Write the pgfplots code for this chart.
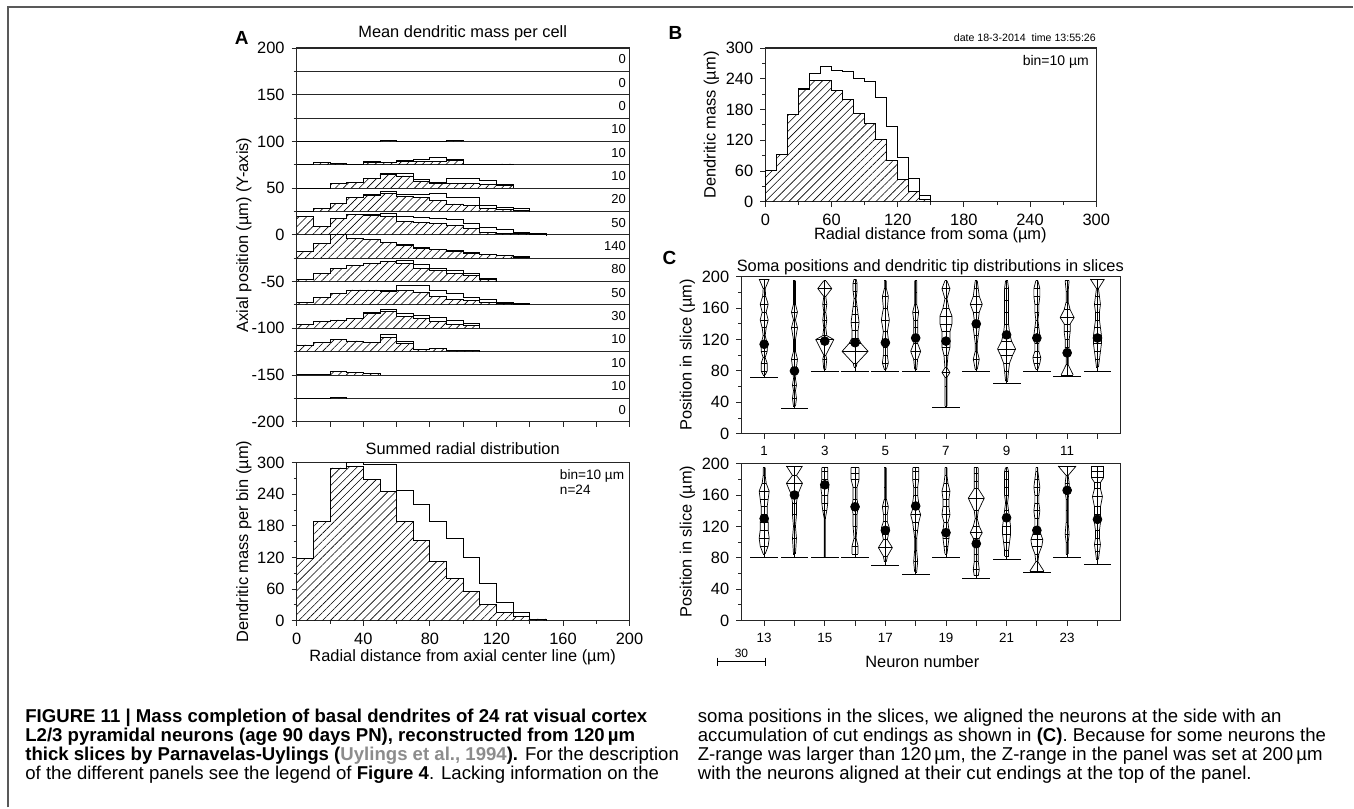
\documentclass[border=0pt]{standalone}
\usepackage{fontspec}
\setmainfont{Liberation Sans}
\usepackage{pgfplots}
\pgfplotsset{compat=1.18}
\usetikzlibrary{patterns.meta}

\pgfplotsset{
  panel/.style={
    scale only axis, anchor=south west, enlargelimits=false,
    axis line style={black!85, line width=0.55pt},
    tick align=outside, tick pos=left,
    major tick length=2.6pt, minor tick length=1.6pt,
    every tick/.style={black!85, line width=0.45pt},
    tick label style={font=\fontsize{8.2}{9}\selectfont},
    /pgf/number format/assume math mode=true,
  },
  open/.style={const plot, draw=black, line width=0.4pt},
  hatch/.style={const plot, draw=black, line width=0.4pt,
    pattern={Lines[angle=45,distance=2.8pt,line width=0.3pt]}},
  vio/.style={black, line width=0.35pt},
  bars/.style={draw=none, mark=none, error bars/.cd, x dir=both,
    error mark=none, error bar style={draw=black, solid, line width=0.35pt}},
}
\tikzset{
  lab/.style={font=\fontsize{8.2}{9}\selectfont, inner sep=0pt},
  rowlab/.style={font=\fontsize{6.5}{7}\selectfont, anchor=east, inner sep=0pt},
  captxt/.style={font=\fontsize{9.3}{11}\selectfont, anchor=base west, inner sep=0pt},
}

% one histogram row: #1 baseline, #2 rows "x open hatched"
\newcommand{\hrow}[2]{%
  \addplot[open] table[row sep=\\, x=x, y expr=\thisrow{o}+(#1)] {x o c\\ #2};
  \addplot[hatch] table[row sep=\\, x=x, y expr=\thisrow{c}+(#1)] {x o c\\ #2};
}
% one tip distribution: #1 neuron slot, #2 cut level, #3 top, #4 rows "y halfwidth(px)"
\newcommand{\violin}[4]{%
  \addplot[vio] table[row sep=\\, x expr=#1+\thisrow{w}/30.3, y=y] {y w\\ #4};
  \addplot[vio] table[row sep=\\, x expr=#1-\thisrow{w}/30.3, y=y] {y w\\ #4};
  \addplot[bars, x explicit]
    table[row sep=\\, x expr=#1, y=y, x error expr=\thisrow{w}/30.3] {y w\\ #4};
  \addplot[vio] table[row sep=\\] {x y\\ #1 #2\\ #1 #3\\};
}

\begin{document}
\begin{tikzpicture}[x=0.5pt,y=-0.5pt]
\path (0,0) rectangle (1354,808);
\draw[black!65, line width=1pt] (8,808) -- (8,7) -- (1354,7);

%% ---------------- A: mean mass per cell
\begin{axis}[panel, at={(148.5pt,-211pt)}, width=166.5pt, height=187pt,
  xmin=0, xmax=200, ymin=-200, ymax=200,
  xtick={0,20,...,200}, xticklabels={},
  ytick={-200,-150,...,200}, minor ytick={-175,-125,...,175},
  ymajorgrids, yminorgrids, grid style={black!85, line width=0.45pt}]
\hrow{100}{0 0 0\\ 50 1 1\\ 60 0 0\\ 90 1 1\\ 100 0 0\\}
\hrow{75}{0 0 0\\ 10 2.3 2.3\\ 20 1.3 1.3\\ 30 0 0\\ 40 3.4 2.5\\ 50 2.3 2.3\\ 60 4.5 3.5\\ 70 5.9 4\\ 80 8 4\\ 90 5.2 4.5\\ 100 0 0\\ 120 0.9 0.9\\ 130 0 0\\}
\hrow{50}{0 0 0\\ 20 5.3 5.3\\ 30 6 6\\ 40 10.6 10.6\\ 50 16 15\\ 60 15.3 13\\ 70 8.8 7\\ 80 6 5.5\\ 90 10 5\\ 100 10 5\\ 110 8 3.5\\ 120 3.5 2.5\\ 130 0 0\\}
\hrow{25}{0 0 0\\ 10 3.6 3.6\\ 20 8.2 8.2\\ 30 14.6 14.6\\ 40 18.6 17\\ 50 21.4 19\\ 60 17.9 16\\ 70 18.6 15\\ 80 18.9 11.8\\ 90 15.4 8\\ 100 15.4 6\\ 110 7 3.6\\ 120 4.3 2\\ 130 2.9 1\\ 140 0 0\\}
\hrow{0}{0 0 0\\ 0 19.6 19.6\\ 10 8.9 8.9\\ 20 17.9 17.9\\ 30 21.4 21.4\\ 40 22 20.4\\ 50 23.2 19.6\\ 60 19.6 14.3\\ 70 18.9 13.6\\ 80 17.9 12.5\\ 90 16 10\\ 100 12.5 6.4\\ 110 8.2 2.9\\ 120 5.4 1.8\\ 130 2.9 1\\ 140 1 0.3\\ 150 0 0\\}
\hrow{-25}{0 0 0\\ 0 7.1 7.1\\ 10 16 16\\ 20 25 25\\ 30 21.4 21.4\\ 40 19.6 19.6\\ 50 16.8 16.8\\ 60 14.3 13.2\\ 70 11.8 10.7\\ 80 9.6 8.9\\ 90 7.9 7.1\\ 100 6.1 5.4\\ 110 4.3 3.6\\ 120 2.9 2.5\\ 130 1.4 1\\ 140 0 0\\}
\hrow{-50}{0 0 0\\ 0 1.8 1.8\\ 10 8.9 8.9\\ 20 13.6 13.6\\ 30 16.8 16.8\\ 40 19.6 19.6\\ 50 22 21.4\\ 60 22.5 18.9\\ 70 17.9 14.3\\ 80 14.3 11.8\\ 90 11.4 8.9\\ 100 8.9 6.4\\ 110 2.9 1.8\\ 120 0 0\\}
\hrow{-75}{0 0 0\\ 0 2.5 2.5\\ 10 8.2 8.2\\ 20 12.5 12.5\\ 30 16 16\\ 40 16 16\\ 50 16 14.3\\ 60 20.7 15.4\\ 70 20.7 13.2\\ 80 16 8.9\\ 90 12.5 6\\ 100 8.2 4.3\\ 110 5.4 2.9\\ 120 2.9 1.8\\ 130 1.2 0.7\\ 140 0 0\\}
\hrow{-100}{0 0 0\\ 0 3.6 3.6\\ 10 7.1 7.1\\ 20 8.9 8.9\\ 30 10.7 10.7\\ 40 16.8 16\\ 50 20.4 17.9\\ 60 15.4 12.5\\ 70 14.3 10.7\\ 80 11.8 7.1\\ 90 7.9 4.3\\ 100 5.4 2.9\\ 110 0 0\\}
\hrow{-125}{0 0 0\\ 0 7.1 7.1\\ 10 10 10\\ 20 13.2 13.2\\ 30 11.4 11.4\\ 40 9.6 9.6\\ 50 17.9 15.5\\ 60 10.7 8.9\\ 70 2.5 2.5\\ 80 3.6 3\\ 90 1.8 1.5\\ 100 1.1 1\\ 110 0 0\\}
\hrow{-150}{0 0 0\\ 0 0.7 0.7\\ 10 0.7 0.7\\ 20 3.6 3.6\\ 30 2.9 2.9\\ 40 2.1 2.1\\ 50 0 0\\}
\hrow{-175}{0 0 0\\ 20 0.7 0.7\\ 30 0 0\\}
\node[rowlab] at (axis cs:198,188) {0};
\node[rowlab] at (axis cs:198,163) {0};
\node[rowlab] at (axis cs:198,138) {0};
\node[rowlab] at (axis cs:198,113) {10};
\node[rowlab] at (axis cs:198,88) {10};
\node[rowlab] at (axis cs:198,63) {10};
\node[rowlab] at (axis cs:198,38) {20};
\node[rowlab] at (axis cs:198,13) {50};
\node[rowlab] at (axis cs:198,-12) {140};
\node[rowlab] at (axis cs:198,-37) {80};
\node[rowlab] at (axis cs:198,-62) {50};
\node[rowlab] at (axis cs:198,-87) {30};
\node[rowlab] at (axis cs:198,-112) {10};
\node[rowlab] at (axis cs:198,-137) {10};
\node[rowlab] at (axis cs:198,-162) {10};
\node[rowlab] at (axis cs:198,-187) {0};
\end{axis}

%% ---------------- A: summed radial distribution
\begin{axis}[panel, at={(148.5pt,-310.5pt)}, width=166.5pt, height=79pt,
  xmin=0, xmax=200, ymin=0, ymax=300,
  xtick={0,40,...,200}, minor x tick num=1,
  ytick={0,60,...,300}, minor y tick num=1]
\hrow{0}{0 0 0\\ 0 118 118\\ 10 188 188\\ 20 290 290\\ 30 300 292\\ 40 297 268\\ 50 297 245\\ 60 248 188\\ 70 220 152\\ 80 188 112\\ 90 157 80\\ 100 120 55\\ 110 70 30\\ 120 35 15\\ 130 15 8\\ 140 3 3\\ 150 0 0\\}
\end{axis}

%% ---------------- B
\begin{axis}[panel, at={(383pt,-101pt)}, width=165.5pt, height=77pt,
  xmin=0, xmax=300, ymin=0, ymax=300,
  xtick={0,60,...,300}, minor x tick num=1,
  ytick={0,60,...,300}, minor y tick num=1]
\hrow{0}{0 0 0\\ 0 62 62\\ 10 93 93\\ 20 171 171\\ 30 222 220\\ 40 251 236\\ 50 265 236\\ 60 257 217\\ 70 254 199\\ 80 240 173\\ 90 234 152\\ 100 204 122\\ 110 148 81\\ 120 87 43\\ 130 45 20\\ 140 12 5\\ 150 0 0\\}
\end{axis}

%% ---------------- C, neurons 1-12
\begin{axis}[panel, at={(371pt,-217pt)}, width=189.5pt, height=78.5pt,
  xmin=0.25, xmax=12.75, ymin=0, ymax=200,
  xtick={1,...,12}, xticklabels={1,,3,,5,,7,,9,,11,},
  x tick label style={font=\fontsize{6.7}{7}\selectfont},
  ytick={0,40,...,200}, minor y tick num=1]
\violin{1}{72}{197}{75 1\\ 80 3\\ 90 3\\ 97 1\\ 105 3\\ 115 3\\ 125 1\\ 135 2\\ 145 4\\ 155 2\\ 165 4\\ 175 1.5\\ 185 1\\ 197 5\\}
\violin{2}{32}{195}{35 1\\ 45 2\\ 55 1\\ 62 2\\ 70 1\\ 85 2\\ 95 3\\ 105 1\\ 120 1\\ 135 3\\ 145 1\\ 155 3\\ 165 1\\ 180 1\\ 195 1\\}
\violin{3}{80}{195}{82 1\\ 95 2\\ 100 1\\ 120 9\\ 125 2\\ 135 1\\ 145 2\\ 155 1\\ 165 2\\ 175 1\\ 185 7\\ 195 1\\}
\violin{4}{80}{197}{85 1\\ 90 2\\ 105 13\\ 115 6\\ 122 3\\ 132 3\\ 142 4\\ 152 3\\ 162 2\\ 172 1\\ 182 2\\ 192 2\\ 197 1\\}
\violin{5}{79}{195}{82 1\\ 90 3\\ 100 2\\ 110 2\\ 120 3\\ 130 2\\ 145 4\\ 160 2\\ 175 3\\ 185 1\\ 195 1\\}
\violin{6}{80}{195}{82 1\\ 95 2\\ 105 5\\ 115 2\\ 125 2\\ 135 2\\ 145 2\\ 155 3\\ 165 1\\ 180 1\\ 195 1\\}
\violin{7}{33}{195}{35 1\\ 60 1\\ 72 1\\ 78 4\\ 84 1\\ 100 2\\ 110 4\\ 120 4\\ 130 4\\ 140 6\\ 150 6\\ 160 3\\ 172 1\\ 185 4\\ 195 1\\}
\violin{8}{80}{195}{82 1\\ 95 3\\ 105 1\\ 115 1\\ 125 2\\ 135 3\\ 145 2\\ 155 3\\ 165 6\\ 175 3\\ 185 2\\ 195 1\\}
\violin{9}{64}{195}{67 1\\ 80 2\\ 90 3\\ 100 6\\ 108 9\\ 118 5\\ 128 3\\ 140 2\\ 155 2\\ 170 2\\ 185 2\\ 195 1\\}
\violin{10}{80}{195}{82 1\\ 90 3\\ 97 4\\ 105 2\\ 115 2\\ 125 3\\ 135 2\\ 145 1\\ 155 2\\ 165 2\\ 175 3\\ 185 3\\ 195 1\\}
\violin{11}{73}{195}{75 6\\ 88 1\\ 100 1\\ 110 2\\ 120 2\\ 130 3\\ 140 3\\ 148 7\\ 158 3\\ 168 1\\ 182 1\\ 195 2\\}
\violin{12}{80}{197}{85 1\\ 95 2\\ 105 3\\ 115 4\\ 125 4\\ 135 3\\ 145 2\\ 155 2\\ 165 3\\ 175 2\\ 185 1\\ 197 7\\}
\addplot[bars, x fixed=0.46]
  table[row sep=\\] {x y\\ 1 72\\ 2 32\\ 3 80\\ 4 80\\ 5 79\\ 6 80\\ 7 33\\ 8 80\\ 9 64\\ 10 80\\ 11 73\\ 12 80\\};
\addplot[only marks, mark=*, mark size=2.2pt, black]
  table[row sep=\\] {x y\\ 1 114\\ 2 80\\ 3 118\\ 4 116\\ 5 116\\ 6 122\\ 7 118\\ 8 140\\ 9 126\\ 10 122\\ 11 103\\ 12 122\\};
\end{axis}

%% ---------------- C, neurons 13-24
\begin{axis}[panel, at={(371pt,-310.5pt)}, width=189.5pt, height=78.5pt,
  xmin=0.25, xmax=12.75, ymin=0, ymax=200,
  xtick={1,...,12}, xticklabels={13,,15,,17,,19,,21,,23,},
  x tick label style={font=\fontsize{6.7}{7}\selectfont},
  ytick={0,40,...,200}, minor y tick num=1]
\violin{1}{80}{195}{85 1\\ 95 4\\ 105 5\\ 115 4\\ 125 4\\ 135 3\\ 145 3\\ 155 4\\ 165 5\\ 175 2\\ 185 1\\ 195 1\\}
\violin{2}{80}{197}{85 1\\ 105 2\\ 120 1\\ 135 2\\ 150 2\\ 160 3\\ 175 8\\ 185 2\\ 197 8\\}
\violin{3}{80}{195}{80 0.5\\ 130 0.5\\ 140 2\\ 150 3\\ 160 3\\ 170 4\\ 180 3\\ 190 3\\ 195 3\\}
\violin{4}{80}{195}{85 3\\ 95 3\\ 105 1\\ 120 2\\ 135 2\\ 145 3\\ 155 2\\ 170 2\\ 180 4\\ 188 4\\ 195 4\\}
\violin{5}{70}{195}{75 1\\ 82 2\\ 93 7\\ 103 2\\ 110 3\\ 118 4\\ 126 2\\ 136 2\\ 145 3\\ 155 1\\ 170 1\\ 195 1\\}
\violin{6}{59}{195}{62 1\\ 75 2\\ 90 1\\ 105 1\\ 115 2\\ 125 3\\ 135 5\\ 142 3\\ 150 3\\ 160 2\\ 170 2\\ 180 3\\ 190 3\\ 195 3\\}
\violin{7}{80}{195}{85 1\\ 95 2\\ 105 3\\ 115 3\\ 125 2\\ 135 4\\ 145 3\\ 155 3\\ 165 4\\ 175 2\\ 185 1\\ 195 1\\}
\violin{8}{54}{195}{57 2\\ 65 3\\ 75 2\\ 85 2\\ 95 2\\ 105 3\\ 112 6\\ 120 3\\ 130 1\\ 140 2\\ 156 8\\ 168 2\\ 178 2\\ 188 2\\ 195 2\\}
\violin{9}{78}{195}{82 2\\ 90 2\\ 100 3\\ 110 4\\ 120 4\\ 130 3\\ 140 2\\ 150 1\\ 160 2\\ 170 2\\ 180 2\\ 190 2\\ 195 1\\}
\violin{10}{61}{195}{63 7\\ 75 1\\ 85 2\\ 95 5\\ 103 6\\ 110 4\\ 120 2\\ 130 2\\ 140 3\\ 150 2\\ 160 2\\ 170 3\\ 180 2\\ 190 1\\ 195 1\\}
\violin{11}{80}{197}{85 1\\ 100 1\\ 110 2\\ 125 1\\ 140 1\\ 155 1\\ 165 2\\ 175 2\\ 185 1\\ 197 9\\}
\violin{12}{72}{197}{78 1\\ 88 2\\ 97 3\\ 105 2\\ 115 2\\ 125 3\\ 135 3\\ 145 3\\ 158 5\\ 168 3\\ 176 3\\ 182 6\\ 190 6\\ 197 6\\}
\addplot[bars, x fixed=0.46]
  table[row sep=\\] {x y\\ 1 80\\ 2 80\\ 3 80\\ 4 80\\ 5 70\\ 6 59\\ 7 80\\ 8 54\\ 9 78\\ 10 61\\ 11 80\\ 12 72\\};
\addplot[only marks, mark=*, mark size=2.2pt, black]
  table[row sep=\\] {x y\\ 1 130\\ 2 160\\ 3 173\\ 4 145\\ 5 115\\ 6 146\\ 7 112\\ 8 98\\ 9 131\\ 10 115\\ 11 166\\ 12 129\\};
\end{axis}

%% ---------------- texts around the panels
\node[font=\bfseries\fontsize{9.5}{10}\selectfont, inner sep=0pt] at (242,38) {A};
\node[font=\bfseries\fontsize{9.5}{10}\selectfont, inner sep=0pt] at (676,33) {B};
\node[font=\bfseries\fontsize{9.5}{10}\selectfont, inner sep=0pt] at (670,258) {C};
\node[lab] at (463,33) {Mean dendritic mass per cell};
\node[lab] at (463,449) {Summed radial distribution};
\node[lab] at (931,267) {Soma positions and dendritic tip distributions in slices};
\node[lab, rotate=90] at (244,235) {Axial position (µm) (Y-axis)};
\node[lab, rotate=90] at (244,542) {Dendritic mass per bin (µm)};
\node[lab, rotate=90] at (712,125) {Dendritic mass (µm)};
\node[lab, rotate=90] at (688,355) {Position in slice (µm)};
\node[lab, rotate=90] at (688,542) {Position in slice (µm)};
\node[lab] at (463,658) {Radial distance from axial center line (µm)};
\node[lab] at (931,235) {Radial distance from soma (µm)};
\node[lab] at (923,662) {Neuron number};
\node[font=\fontsize{6.8}{8}\selectfont, anchor=west, inner sep=0pt] at (560,476) {bin=10 µm};
\node[font=\fontsize{6.8}{8}\selectfont, anchor=west, inner sep=0pt] at (560,490) {n=24};
\node[font=\fontsize{7}{8}\selectfont, anchor=east, inner sep=0pt] at (1090,62) {bin=10 µm};
\node[font=\fontsize{5.3}{6}\selectfont, anchor=east, inner sep=0pt] at (1097,38) {date 18-3-2014\ \ time 13:55:26};
\draw[line width=0.45pt] (718,662) -- (766,662) (718,658) -- (718,666) (766,658) -- (766,666);
\node[font=\fontsize{6}{7}\selectfont, inner sep=0pt] at (742,654) {30};

%% ---------------- caption
\node[captxt] at (25,723) {\textbf{FIGURE 11 | Mass completion of basal dendrites of 24 rat visual cortex}};
\node[captxt] at (25,742) {\textbf{L2/3 pyramidal neurons (age 90 days PN), reconstructed from 120\,µm}};
\node[captxt] at (25,761) {\textbf{thick slices by Parnavelas-Uylings (}\textcolor{black!45}{\textbf{Uylings et al., 1994}}\textbf{).} For the description};
\node[captxt] at (25,780) {of the different panels see the legend of \textbf{Figure 4}. Lacking information on the};
\node[captxt] at (698,723) {soma positions in the slices, we aligned the neurons at the side with an};
\node[captxt] at (698,742) {accumulation of cut endings as shown in \textbf{(C)}. Because for some neurons the};
\node[captxt] at (698,761) {Z-range was larger than 120\,µm, the Z-range in the panel was set at 200\,µm};
\node[captxt] at (698,780) {with the neurons aligned at their cut endings at the top of the panel.};
\end{tikzpicture}
\end{document}
